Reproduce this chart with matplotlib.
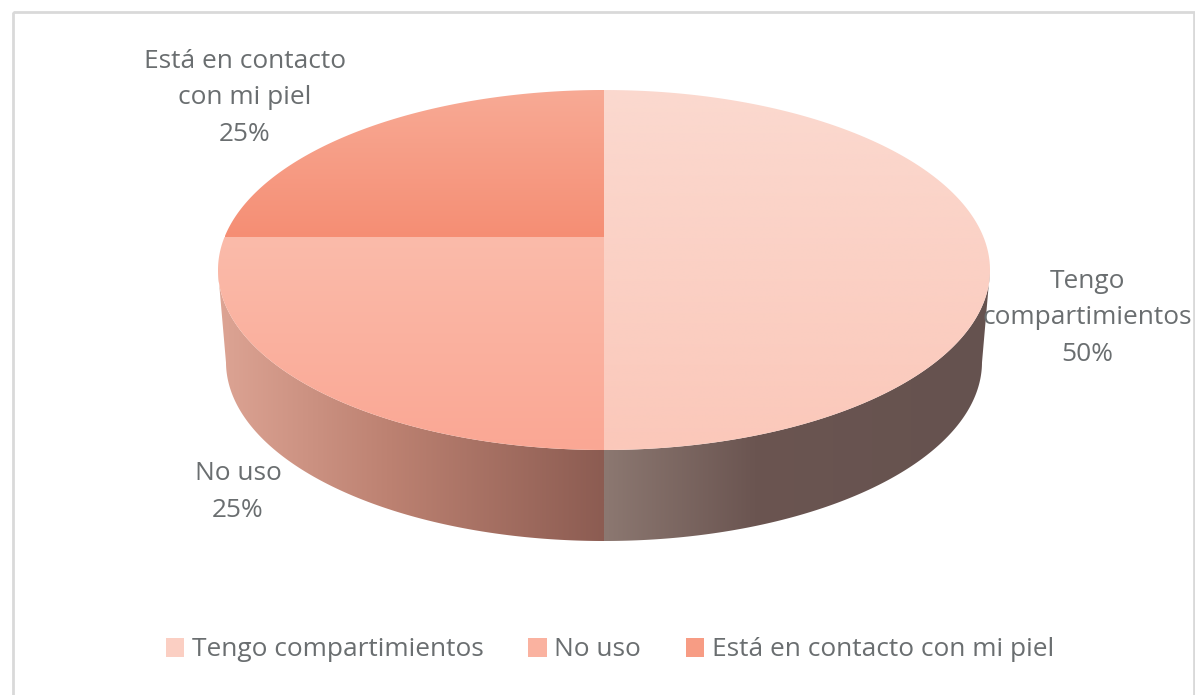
import numpy as np
import matplotlib
matplotlib.use("Agg")
import matplotlib.pyplot as plt
from matplotlib.colors import LinearSegmentedColormap
from matplotlib.patches import Patch, Polygon, Rectangle

categories = ["Tengo compartimientos", "No uso", "Está en contacto con mi piel"]
values = [50, 25, 25]
slice_labels = ["Tengo\ncompartimientos\n50%", "No uso\n25%", "Está en contacto\ncon mi piel\n25%"]

legend_colors = ["#FBCFC3", "#FAB2A0", "#F79C84"]
top_colors = [["#FBD9CF", "#FBC8BA"], ["#FBBBAA", "#FAA794"], ["#F8AA95", "#F58E74"]]
side_colors = [[(0.0, "#8C7871"), (0.39, "#6B5551"), (1.0, "#65524F")],
               [(0.0, "#DDA494"), (0.45, "#BC8171"), (1.0, "#8C5C52")],
               [(0.0, "#DDA494"), (1.0, "#DDA494")]]
label_pos = [(1087, 318), (238, 492), (245, 98)]

# pie geometry in pixels
cx, cy, rx, ry = 604, 270, 386, 180
bot_cy, bot_rx, bot_ry = 362, 378, 179
apex = (270 - 237) / 180

plt.rcParams['font.family'] = ['Open Sans', 'DejaVu Sans']
text_color = "#6A6E70"
font_size = 18.9

fig = plt.figure(figsize=(11.95, 6.95), dpi=100)
ax = fig.add_axes([0, 0, 1, 1])


def rim(theta):
    # point of the rim seen from the off-centre apex, in unit circle coords
    t = -apex * np.cos(theta) + np.sqrt(apex ** 2 * np.cos(theta) ** 2 - apex ** 2 + 1)
    return t * np.sin(theta), apex + t * np.cos(theta)


def fill_gradient(poly, stops, extent, vertical=False):
    cmap = LinearSegmentedColormap.from_list("g", stops)
    grad = np.linspace(0, 1, 256)
    grad = grad.reshape(-1, 1) if vertical else grad.reshape(1, -1)
    im = ax.imshow(grad, cmap=cmap, extent=extent, aspect="auto", origin="upper", interpolation="bilinear", zorder=2)
    ax.add_patch(poly)
    im.set_clip_path(poly)


shares = np.cumsum([0] + values) / sum(values) * 2 * np.pi

# side walls first, then the top faces over them
for i in range(len(values)):
    th = np.linspace(shares[i], shares[i + 1], 300)
    u, v = rim(th)
    front = v <= 0
    if not front.any():
        continue
    u, v = u[front], v[front]
    xt, yt = cx + rx * u, cy - ry * v
    xb, yb = cx + bot_rx * u, bot_cy - bot_ry * v
    pts = np.vstack([np.column_stack([xt, yt]), np.column_stack([xb, yb])[::-1]])
    poly = Polygon(pts, closed=True, fc="none", ec="none", zorder=1)
    stops = side_colors[i]
    x0, x1 = min(pts[:, 0].min(), cx), max(pts[:, 0].max(), cx)
    if i == 0:
        extent = (cx, x0 + (x1 - x0), 560, 240)
    else:
        extent = (x0, cx, 560, 240)
    fill_gradient(poly, stops, extent)

for i in range(len(values)):
    th = np.linspace(shares[i], shares[i + 1], 300)
    u, v = rim(th)
    xs = np.r_[cx, cx + rx * u]
    ys = np.r_[cy - ry * apex, cy - ry * v]
    poly = Polygon(np.column_stack([xs, ys]), closed=True, fc="none", ec="none", zorder=1)
    fill_gradient(poly, top_colors[i], (xs.min(), xs.max(), ys.max(), ys.min()), vertical=True)

for lab, (lx, ly) in zip(slice_labels, label_pos):
    ax.text(lx, ly, lab, ha="center", va="center", fontsize=font_size, color=text_color, linespacing=1.58, zorder=5)

handles = [Patch(fc=c, ec="none", label=n) for c, n in zip(legend_colors, categories)]
leg = ax.legend(handles=handles, ncol=3, loc="center", bbox_to_anchor=(610, 650),
                bbox_transform=ax.transData, frameon=False, fontsize=font_size,
                labelcolor=text_color, handlelength=0.7, handleheight=0.7,
                handletextpad=0.3, columnspacing=1.7, borderpad=0)

# chart area border, runs off the bottom of the picture
ax.add_patch(Rectangle((13, 12), 1181, 700, fc="none", ec="#D9D9D9", lw=2, zorder=6))

ax.set_xlim(0, 1195)
ax.set_ylim(695, 0)
ax.axis("off")
fig.savefig("out.png", dpi=100)
